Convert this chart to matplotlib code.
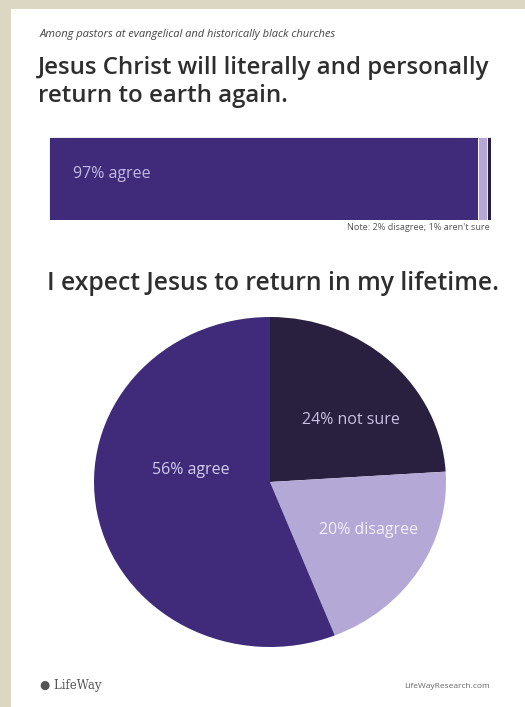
import matplotlib
matplotlib.use("Agg")
import matplotlib.pyplot as plt
from matplotlib.patches import Rectangle

# ---- data ----
bar_categories = ["agree", "disagree", "not sure"]
bar_values = [97, 2, 1]
pie_categories = ["not sure", "disagree", "agree"]
pie_values = [24, 20, 56]

subtitle = "Among pastors at evangelical and historically black churches"
title1 = "Jesus Christ will literally and personally\nreturn to earth again."
note = "Note: 2% disagree; 1% aren't sure"
title2 = "I expect Jesus to return in my lifetime."

# ---- style ----
C_AGREE = "#3f2b79"
C_DIS = "#b4a9d6"
C_NS = "#291f3f"
C_LABEL = "#c3b9e4"
BEIGE = "#dcd7c2"
TXT = "#2e2e2e"

W, H = 525, 707
fig = plt.figure(figsize=(W / 100, H / 100), dpi=100)
fig.patch.set_facecolor(BEIGE)
fig.patches.append(Rectangle((11 / W, 0), 1 - 11 / W, 1 - 9 / H,
                             transform=fig.transFigure, facecolor="white",
                             edgecolor="none", zorder=-5))

def fx(px):
    return px / W

def fy(py):
    return 1 - py / H

fig.text(fx(40), fy(34), subtitle, fontsize=8, style="italic",
         family="Open Sans", color="#444444", va="center", ha="left")
fig.text(fx(38), fy(82), title1, fontsize=17.3, family="Open Sans",
         fontweight="semibold", color=TXT, va="center", ha="left",
         linespacing=1.18)

# ---- bar ----
ax_b = fig.add_axes([fx(49), fy(220), fx(442), 83 / H])
bar_colors = {"agree": C_AGREE, "disagree": C_DIS, "not sure": C_NS}
left = 0
for cat, v in zip(bar_categories, bar_values):
    ax_b.barh(0, v, left=left, height=1, color=bar_colors[cat],
              edgecolor="white", linewidth=0.6)
    left += v
ax_b.set_xlim(0, sum(bar_values))
ax_b.set_ylim(-0.5, 0.5)
ax_b.axis("off")
ax_b.text(0.055, 0.56, f"{bar_values[0]}% {bar_categories[0]}",
          transform=ax_b.transAxes, color=C_LABEL, fontsize=11.5,
          family="Open Sans", va="center", ha="left")

fig.text(fx(490), fy(228), note, fontsize=6.6, family="Open Sans",
         color="#555555", ha="right", va="center")

fig.text(fx(47), fy(284), title2, fontsize=17.8, family="Open Sans",
         fontweight="semibold", color=TXT, va="center", ha="left")

# ---- pie ----
cx, cy, rx, ry = 270, 482, 176, 165
ax_p = fig.add_axes([fx(cx - rx), fy(cy + ry), 2 * rx / W, 2 * ry / H])
pie_colors = {"agree": C_AGREE, "disagree": C_DIS, "not sure": C_NS}
ax_p.pie(pie_values, colors=[pie_colors[c] for c in pie_categories],
         startangle=90, counterclock=False, radius=1,
         wedgeprops=dict(linewidth=0))
ax_p.set_aspect("auto")
ax_p.set_xlim(-1, 1)
ax_p.set_ylim(-1, 1)
ax_p.axis("off")

label_pos = {"not sure": (0.46, 0.375), "disagree": (0.56, -0.29),
             "agree": (-0.45, 0.075)}
label_col = {"not sure": "#c9c1e3", "disagree": "#f2effa", "agree": "#d4cdef"}
for cat, v in zip(pie_categories, pie_values):
    x, y = label_pos[cat]
    ax_p.text(x, y, f"{v}% {cat}", color=label_col[cat], fontsize=11.5,
              family="Open Sans", ha="center", va="center")

# ---- footer ----
fig.text(fx(40), fy(686), "\u25CF LifeWay", fontsize=8.5, family="DejaVu Serif",
         color="#555555", ha="left", va="center")
fig.text(fx(490), fy(686), "LifeWayResearch.com", fontsize=6,
         family="Open Sans", color="#666666", ha="right", va="center")

fig.savefig("out.png", dpi=100, facecolor=fig.get_facecolor())
